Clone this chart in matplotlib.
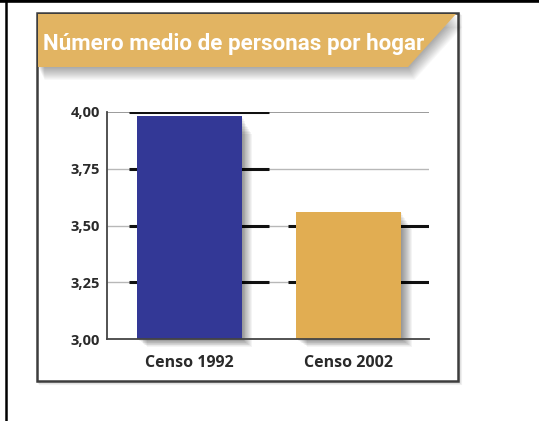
import matplotlib
matplotlib.use("Agg")
import matplotlib.pyplot as plt
from matplotlib.patches import Polygon, Rectangle

# data
categories = ["Censo 1992", "Censo 2002"]
values = [3.98, 3.56]
bar_colors = ["#333896", "#E1AD52"]
yticks = [3.00, 3.25, 3.50, 3.75, 4.00]
ytick_labels = ["3,00", "3,25", "3,50", "3,75", "4,00"]
title = "Número medio de personas por hogar"

W, H = 539, 421
fig = plt.figure(figsize=(W / 100, H / 100), dpi=100)
fig.patch.set_facecolor("white")

# decoration layer in pixel coordinates
bg = fig.add_axes([0, 0, 1, 1])
bg.set_xlim(0, W)
bg.set_ylim(H, 0)
bg.axis("off")
bg.set_zorder(0)

# outer frame (top and left only visible)
bg.plot([0, W], [1.2, 1.2], color="black", lw=2.6, solid_capstyle="butt")
bg.plot([6, 6], [0, H], color="black", lw=1.8, solid_capstyle="butt")

# panel shadow + panel
for k in range(1, 4):
    bg.add_patch(Rectangle((37 + k, 13 + k), 421, 368, fill=False,
                           ec="black", lw=1.5, alpha=0.06))
bg.add_patch(Rectangle((37, 13), 421, 368, fc="white", ec="#3d3d3d", lw=1.8))

# banner shadow (soft, fading downwards)
banner = [(38, 14), (456, 14), (408, 67), (38, 67)]
for k in range(1, 14):
    pts = [(x + k * 0.5, y + k) for x, y in banner]
    bg.add_patch(Polygon(pts, closed=True, fc="black", ec="none", alpha=0.028))
bg.add_patch(Polygon(banner, closed=True, fc="#E2B462", ec="none"))

t = bg.text(43, 50, title, color="white", fontsize=20, fontweight="bold",
            family="Roboto", va="baseline", ha="left")
fig.canvas.draw()
w = t.get_window_extent().width
t.set_fontsize(20 * 380 / w)

# main chart
ax = fig.add_axes([107.3 / W, 1 - 339.3 / H, (429 - 107.3) / W, (339.3 - 111.7) / H])
ax.set_zorder(1)
ax.patch.set_alpha(0)
ax.set_xlim(-0.513, 1.502)
ax.set_ylim(3.0, 4.0)

x = list(range(len(categories)))
ax.hlines(yticks[1:-1], -0.513, 1.502, color="#b8b8b8", lw=1.0, zorder=1)
ax.hlines([4.00], -0.513, 1.502, color="#808080", lw=1.1, zorder=1)

# dark segments behind each bar
for i, v in enumerate(values):
    ts = [tk for tk in yticks if tk <= v + 0.05 and tk > 3.0]
    ax.hlines(ts, i - 0.38, i + 0.50, color="#111111", lw=2.2, zorder=2)

# bar shadows
bw = 0.657
for i, v in enumerate(values):
    for k in range(1, 12):
        ax.add_patch(Rectangle((i - bw / 2 + k * 0.006, 3.0 - k * 0.003),
                               bw, v - 3.0 - 0.004 * k, fc="black", ec="none",
                               alpha=0.045, zorder=3, clip_on=False))

ax.bar(x, [v - 3.0 for v in values], bottom=3.0, width=bw,
       color=bar_colors, zorder=4)

for s in ["top", "right"]:
    ax.spines[s].set_visible(False)
ax.spines["left"].set_color("#444444")
ax.spines["left"].set_linewidth(1.3)
ax.spines["bottom"].set_color("#444444")
ax.spines["bottom"].set_linewidth(1.3)
ax.spines["bottom"].set_zorder(5)

ax.set_yticks(yticks)
ax.set_yticklabels(ytick_labels, fontsize=10.5, fontweight="bold",
                   family="Open Sans", color="#2a2a2a")
ax.set_xticks(x)
ax.set_xticklabels(categories, fontsize=11.5, fontweight="bold",
                   family="Open Sans", color="#2a2a2a")
ax.tick_params(axis="y", length=0, pad=5)
ax.tick_params(axis="x", length=0, pad=11)

fig.savefig("out.png", dpi=100, facecolor="white")
